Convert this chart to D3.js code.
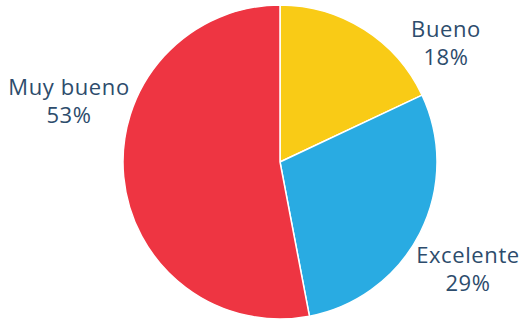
<!DOCTYPE html>
<html><head><meta charset="utf-8">
<script src="https://cdn.jsdelivr.net/npm/d3@7"></script>
<style>html,body{margin:0;padding:0;background:#fff;}svg{display:block;}</style>
</head><body>
<svg id="c" width="525" height="322"></svg>
<script>
const categories = ["Bueno", "Excelente", "Muy bueno"];
const values = [18, 29, 53];
const colors = ["#F9CB16", "#29ABE2", "#EE3542"];

// label layout (x center, baseline of first line)
const labelPos = [[446, 37], [468, 263], [69, 95]];

const svg = d3.select("#c");
const cx = 280, cy = 162, r = 157;
const pie = d3.pie().sort(null).value(d => d)(values);
const arc = d3.arc().innerRadius(0).outerRadius(r);
const g = svg.append("g").attr("transform", `translate(${cx},${cy})`);
g.selectAll("path").data(pie).join("path")
  .attr("d", arc)
  .attr("fill", (d, i) => colors[i])
  .attr("stroke", "#fff").attr("stroke-width", 1.5);

const font = "'Open Sans', sans-serif";
categories.forEach((c, i) => {
  [c, values[i] + "%"].forEach((s, k) => {
    svg.append("text").attr("text-anchor", "middle")
      .attr("font-family", font).attr("font-size", 22).attr("letter-spacing", 0.6)
      .attr("fill", "#2D4C6C")
      .attr("x", labelPos[i][0]).attr("y", labelPos[i][1] + k * 28)
      .text(s);
  });
});
</script>
</body></html>
